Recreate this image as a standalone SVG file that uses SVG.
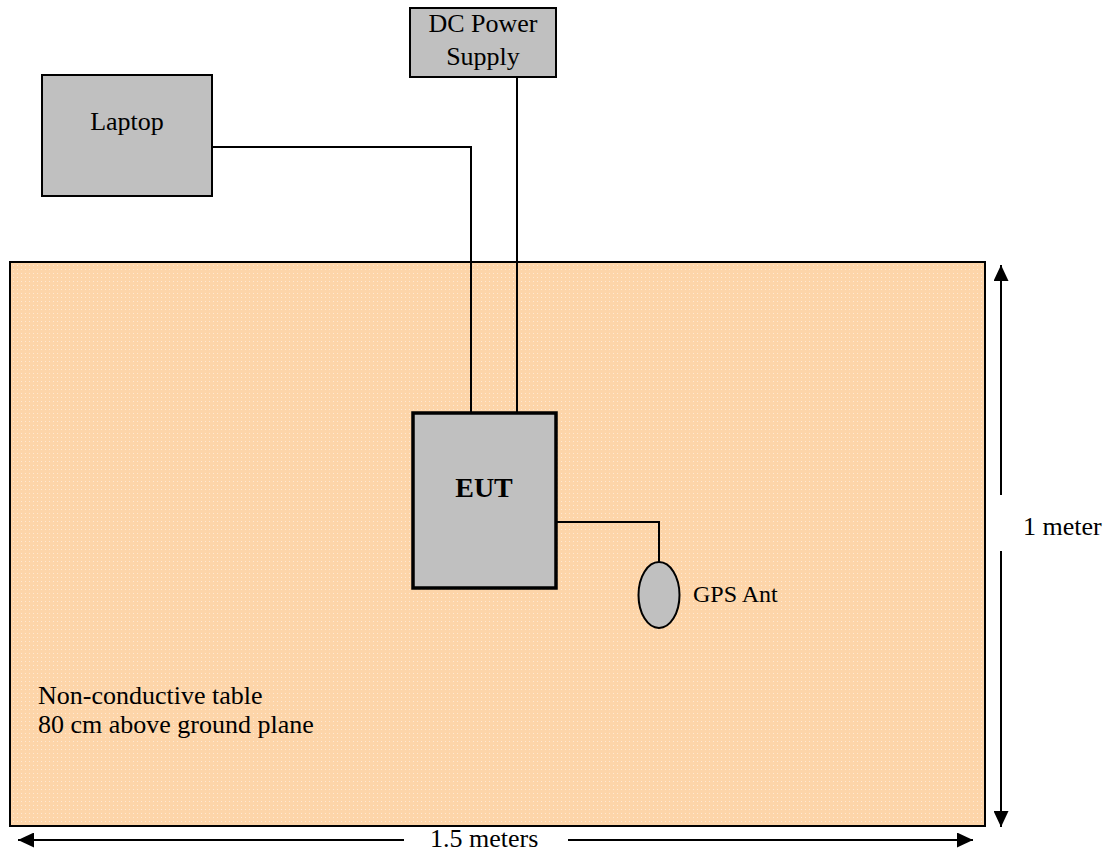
<svg xmlns="http://www.w3.org/2000/svg" width="1107" height="855" viewBox="0 0 1107 855">
<style>
text{font-family:"Liberation Serif","Times New Roman",serif;font-size:26px;fill:#000}
.box{fill:#c0c0c0;stroke:#000;stroke-width:2}
.wire{fill:none;stroke:#000;stroke-width:2}
.dim{fill:none;stroke:#000;stroke-width:2}
</style>
<defs>
<pattern id="dots" width="4" height="4" patternUnits="userSpaceOnUse">
<rect width="4" height="4" fill="#fdd5a9"/>
<rect x="1" y="1" width="1" height="1" fill="#ffe9d2"/>
</pattern>
<marker id="ah" viewBox="0 0 16 15" refX="16" refY="7.5" markerWidth="16" markerHeight="15" markerUnits="userSpaceOnUse" orient="auto">
<path d="M0,0 L16,7.5 L0,15 Z" fill="#000"/>
</marker>
</defs>
<g id="table">
<rect x="10" y="262" width="975" height="564" fill="url(#dots)" stroke="#000" stroke-width="2"/>
<text x="38" y="704">Non-conductive table</text>
<text x="38" y="733">80 cm above ground plane</text>
</g>
<g id="connectors">
<polyline class="wire" points="212,147 471,147 471,413"/>
<line class="wire" x1="517" y1="77" x2="517" y2="413"/>
<polyline class="wire" points="556,522 659,522 659,562"/>
</g>
<g id="laptop">
<rect class="box" x="42" y="75" width="170" height="121"/>
<text x="127" y="130" text-anchor="middle">Laptop</text>
</g>
<g id="dc-power">
<rect class="box" x="410" y="8" width="146" height="69"/>
<text x="483" y="32" text-anchor="middle">DC Power</text>
<text x="483" y="65" text-anchor="middle">Supply</text>
</g>
<g id="eut">
<rect class="box" x="413" y="413" width="143" height="175" style="stroke-width:3.5"/>
<text x="484" y="497" text-anchor="middle" style="font-weight:bold;font-size:28px">EUT</text>
</g>
<g id="gps">
<ellipse class="box" cx="659" cy="595" rx="20.5" ry="33"/>
<text x="693" y="602" style="font-size:24px">GPS Ant</text>
</g>
<g id="dimensions">
<line class="dim" x1="1001" y1="495" x2="1001" y2="265" marker-end="url(#ah)"/>
<line class="dim" x1="1001" y1="551" x2="1001" y2="827" marker-end="url(#ah)"/>
<text x="1023" y="535">1 meter</text>
<line class="dim" x1="404" y1="840" x2="18" y2="840" marker-end="url(#ah)"/>
<line class="dim" x1="568" y1="840" x2="973" y2="840" marker-end="url(#ah)"/>
<text x="430" y="847">1.5 meters</text>
</g>
</svg>
